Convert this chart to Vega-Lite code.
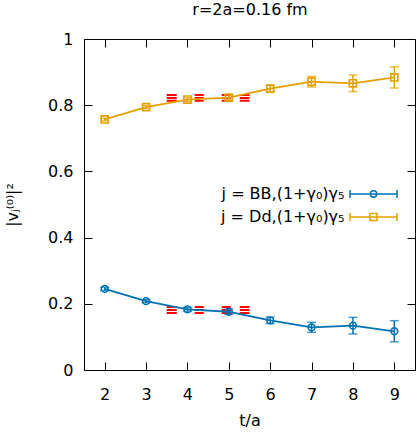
{
  "$schema": "https://vega.github.io/schema/vega-lite/v6.json",
  "width": 331,
  "height": 331,
  "autosize": {"type": "none"},
  "padding": {"left": 84, "top": 39, "right": 2, "bottom": 62},
  "background": "white",
  "config": {
    "font": "DejaVu Sans",
    "view": {"stroke": "black", "strokeWidth": 1}
  },
  "datasets": {
    "pts": [
      {"k": "BB", "series": "j = BB,(1+γ₀)γ₅", "t": 2, "v": 0.245, "err": 0.005},
      {"k": "BB", "series": "j = BB,(1+γ₀)γ₅", "t": 3, "v": 0.208, "err": 0.005},
      {"k": "BB", "series": "j = BB,(1+γ₀)γ₅", "t": 4, "v": 0.183, "err": 0.006},
      {"k": "BB", "series": "j = BB,(1+γ₀)γ₅", "t": 5, "v": 0.176, "err": 0.008},
      {"k": "BB", "series": "j = BB,(1+γ₀)γ₅", "t": 6, "v": 0.150, "err": 0.010},
      {"k": "BB", "series": "j = BB,(1+γ₀)γ₅", "t": 7, "v": 0.129, "err": 0.015},
      {"k": "BB", "series": "j = BB,(1+γ₀)γ₅", "t": 8, "v": 0.134, "err": 0.025},
      {"k": "BB", "series": "j = BB,(1+γ₀)γ₅", "t": 9, "v": 0.117, "err": 0.032},
      {"k": "Dd", "series": "j = Dd,(1+γ₀)γ₅", "t": 2, "v": 0.757, "err": 0.004},
      {"k": "Dd", "series": "j = Dd,(1+γ₀)γ₅", "t": 3, "v": 0.794, "err": 0.005},
      {"k": "Dd", "series": "j = Dd,(1+γ₀)γ₅", "t": 4, "v": 0.817, "err": 0.006},
      {"k": "Dd", "series": "j = Dd,(1+γ₀)γ₅", "t": 5, "v": 0.823, "err": 0.008},
      {"k": "Dd", "series": "j = Dd,(1+γ₀)γ₅", "t": 6, "v": 0.850, "err": 0.010},
      {"k": "Dd", "series": "j = Dd,(1+γ₀)γ₅", "t": 7, "v": 0.871, "err": 0.016},
      {"k": "Dd", "series": "j = Dd,(1+γ₀)γ₅", "t": 8, "v": 0.866, "err": 0.025},
      {"k": "Dd", "series": "j = Dd,(1+γ₀)γ₅", "t": 9, "v": 0.884, "err": 0.032}
    ],
    "band": [
      {"grp": "BB lo", "t1": 3.5, "t2": 5.5, "y": 0.172},
      {"grp": "BB mid", "t1": 3.5, "t2": 5.5, "y": 0.181},
      {"grp": "BB hi", "t1": 3.5, "t2": 5.5, "y": 0.190},
      {"grp": "Dd lo", "t1": 3.5, "t2": 5.5, "y": 0.8135},
      {"grp": "Dd mid", "t1": 3.5, "t2": 5.5, "y": 0.822},
      {"grp": "Dd hi", "t1": 3.5, "t2": 5.5, "y": 0.8305}
    ]
  },
  "layer": [
    {
      "data": {"name": "band"},
      "mark": {"type": "rule", "color": "#ff0000", "strokeWidth": 2, "strokeDash": [10, 18, 9, 18, 9, 9, 12]},
      "encoding": {
        "x": {"field": "t1", "type": "quantitative",
              "scale": {"domain": [1.5, 9.5], "nice": false, "zero": false},
              "axis": {"orient": "bottom", "values": [2, 3, 4, 5, 6, 7, 8, 9], "format": "d", "grid": false, "domain": false,
                       "tickSize": -8, "tickColor": "black", "tickWidth": 1,
                       "labelFont": "DejaVu Sans", "labelFontSize": 16, "labelColor": "black", "labelPadding": 24,
                       "title": "t/a", "titleFont": "DejaVu Sans", "titleFontSize": 16, "titleFontWeight": "normal", "titleColor": "black",
                       "titleX": 165.5, "titleY": 50, "titleAlign": "center", "titleBaseline": "middle"}},
        "x2": {"field": "t2"},
        "y": {"field": "y", "type": "quantitative",
              "scale": {"domain": [0, 1], "nice": false},
              "axis": {"orient": "left", "values": [0, 0.2, 0.4, 0.6, 0.8, 1], "format": "~g", "grid": false, "domain": false,
                       "tickSize": -8, "tickColor": "black", "tickWidth": 1,
                       "labelFont": "DejaVu Sans", "labelFontSize": 16, "labelColor": "black", "labelPadding": 19,
                       "title": "|vⱼ⁽⁰⁾|²", "titleFont": "DejaVu Sans", "titleFontSize": 16, "titleFontWeight": "normal", "titleColor": "black",
                       "titleX": -72, "titleY": 165.5, "titleAngle": -90, "titleAlign": "center", "titleBaseline": "middle"}},
        "detail": {"field": "grp", "type": "nominal"}
      }
    },
    {
      "data": {"name": "pts"},
      "mark": {"type": "point", "filled": false, "opacity": 0, "strokeWidth": 1.5},
      "encoding": {
        "x": {"field": "t", "type": "quantitative",
              "axis": {"orient": "top", "values": [2, 3, 4, 5, 6, 7, 8, 9], "labels": false, "grid": false, "domain": false,
                       "tickSize": -8, "tickColor": "black", "tickWidth": 1,
                       "title": "r=2a=0.16 fm", "titleFont": "DejaVu Sans", "titleFontSize": 16, "titleFontWeight": "normal", "titleColor": "black",
                       "titleX": 165.5, "titleY": -30, "titleAlign": "center", "titleBaseline": "middle"}},
        "y": {"field": "v", "type": "quantitative",
              "axis": {"orient": "right", "values": [0, 0.2, 0.4, 0.6, 0.8, 1], "labels": false, "grid": false, "domain": false,
                       "tickSize": -8, "tickColor": "black", "tickWidth": 1, "title": null}},
        "color": {"field": "series", "type": "nominal",
                  "scale": {"domain": ["j = BB,(1+γ₀)γ₅", "j = Dd,(1+γ₀)γ₅"], "range": ["#0072b2", "#e69f00"]},
                  "legend": {"orient": "none", "legendX": 281.5, "legendY": 147, "title": null, "padding": 0,
                             "labelFont": "DejaVu Sans", "labelFontSize": 16, "labelColor": "black", "labelAlign": "right", "labelOffset": -37,
                             "symbolSize": 64, "symbolStrokeWidth": 1.5, "symbolOpacity": 1, "symbolFillColor": "transparent", "rowPadding": 7}},
        "shape": {"field": "series", "type": "nominal",
                  "scale": {"domain": ["j = BB,(1+γ₀)γ₅", "j = Dd,(1+γ₀)γ₅"],
                            "range": ["M-5.875,-1L-5.875,1M-5.875,0L5.875,0M5.875,-1L5.875,1M-0.8,0A0.8,0.8 0 1 0 0.8,0A0.8,0.8 0 1 0 -0.8,0",
                                      "M-5.875,-1L-5.875,1M-5.875,0L5.875,0M5.875,-1L5.875,1M-0.875,-0.875L0.875,-0.875L0.875,0.875L-0.875,0.875Z"]},
                  "legend": {"orient": "none", "legendX": 281.5, "legendY": 147, "title": null, "padding": 0,
                             "labelFont": "DejaVu Sans", "labelFontSize": 16, "labelColor": "black", "labelAlign": "right", "labelOffset": -37,
                             "symbolSize": 64, "symbolStrokeWidth": 1.5, "symbolOpacity": 1, "symbolFillColor": "transparent", "rowPadding": 7}}
      }
    },
    {
      "data": {"name": "pts"},
      "transform": [{"filter": "datum.k === 'BB'"}],
      "mark": {"type": "line", "strokeWidth": 1.8, "color": "#0072b2"},
      "encoding": {
        "x": {"field": "t", "type": "quantitative", "axis": null},
        "y": {"field": "v", "type": "quantitative", "axis": null}
      }
    },
    {
      "data": {"name": "pts"},
      "transform": [{"filter": "datum.k === 'Dd'"}],
      "mark": {"type": "line", "strokeWidth": 1.8, "color": "#e69f00"},
      "encoding": {
        "x": {"field": "t", "type": "quantitative", "axis": null},
        "y": {"field": "v", "type": "quantitative", "axis": null}
      }
    },
    {
      "data": {"name": "pts"},
      "transform": [{"filter": "datum.k === 'BB'"}],
      "mark": {"type": "errorbar", "ticks": true, "size": 9, "thickness": 1.5, "color": "#0072b2"},
      "encoding": {
        "x": {"field": "t", "type": "quantitative", "axis": null},
        "y": {"field": "v", "type": "quantitative", "axis": null},
        "yError": {"field": "err"}
      }
    },
    {
      "data": {"name": "pts"},
      "transform": [{"filter": "datum.k === 'Dd'"}],
      "mark": {"type": "errorbar", "ticks": true, "size": 9, "thickness": 1.5, "color": "#e69f00"},
      "encoding": {
        "x": {"field": "t", "type": "quantitative", "axis": null},
        "y": {"field": "v", "type": "quantitative", "axis": null},
        "yError": {"field": "err"}
      }
    },
    {
      "data": {"name": "pts"},
      "transform": [{"filter": "datum.k === 'BB'"}],
      "mark": {"type": "point", "shape": "circle", "filled": false, "size": 45, "strokeWidth": 1.6, "opacity": 1, "color": "#0072b2"},
      "encoding": {
        "x": {"field": "t", "type": "quantitative", "axis": null},
        "y": {"field": "v", "type": "quantitative", "axis": null}
      }
    },
    {
      "data": {"name": "pts"},
      "transform": [{"filter": "datum.k === 'Dd'"}],
      "mark": {"type": "point", "shape": "square", "filled": false, "size": 50, "strokeWidth": 1.6, "opacity": 1, "color": "#e69f00"},
      "encoding": {
        "x": {"field": "t", "type": "quantitative", "axis": null},
        "y": {"field": "v", "type": "quantitative", "axis": null}
      }
    }
  ],
  "resolve": {"axis": {"x": "independent", "y": "independent"}}
}
